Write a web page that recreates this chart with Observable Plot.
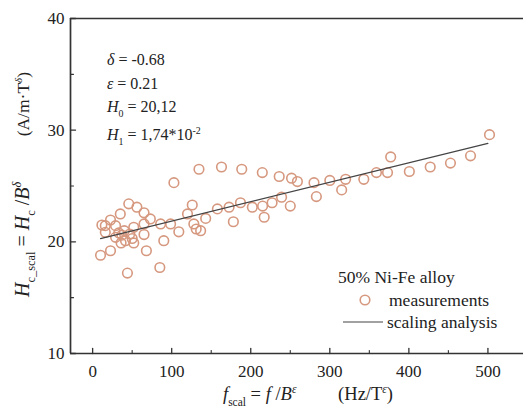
<!DOCTYPE html>
<html>
<head>
<meta charset="utf-8">
<script src="https://cdn.jsdelivr.net/npm/d3@7"></script>
<script src="https://cdn.jsdelivr.net/npm/@observablehq/plot@0.6"></script>
<style>
  html, body { margin: 0; padding: 0; background: #fff; }
  #chart { width: 523px; height: 413px; font-family: "Liberation Serif", serif; }
</style>
</head>
<body>
<div id="chart"></div>
<script>
// Scaled frequency f_scal (Hz/T^ε) of each measurement
const fScal = [10, 22.6, 44, 85, 68, 90, 45.7, 56, 65, 35, 73, 22.6, 16, 29, 52, 65, 86, 98.6,
  109, 126, 120, 131, 16, 29, 37, 41.6, 50, 65, 102.8, 134.5, 163, 188.6, 214.6, 236, 251.6,
  259, 280, 300, 320, 343, 359, 373, 377, 400.6, 427, 452.6, 478, 502, 315, 283, 239, 227,
  250, 217, 202, 215, 187, 172.6, 157.8, 178, 143, 128, 136.6, 33, 40, 47, 36, 52, 11.7];
// Scaled coercive field H_c_scal (A/m·T^δ) of each measurement
const hScal = [18.8, 19.2, 17.2, 17.7, 19.2, 20.1, 23.4, 23.1, 22.6, 22.5, 22.05, 21.95, 21.45,
  21.45, 21.3, 21.6, 21.6, 21.6, 20.9, 23.3, 22.5, 21.15, 20.85, 20.4, 20.6, 20.1, 20.3, 20.65,
  25.3, 26.5, 26.7, 26.5, 26.2, 25.85, 25.7, 25.4, 25.3, 25.5, 25.6, 25.6, 26.2, 26.2, 27.6,
  26.3, 26.7, 27.05, 27.7, 29.6, 24.65, 24.05, 24.0, 23.5, 23.2, 22.2, 23.1, 23.2, 23.5, 23.1,
  22.95, 21.8, 22.1, 21.6, 21.0, 20.8, 21.0, 20.7, 19.9, 19.9, 21.5];

// Scaling-analysis parameters
const delta = -0.68;
const epsilon = 0.21;
const H0 = 20.12;
const H1 = 1.74e-2;
const fitRange = [10, 500];

// Axis ticks
const xMajor = [0, 100, 200, 300, 400, 500];
const xMinor = [50, 150, 250, 350, 450];
const yMajor = [10, 20, 30, 40];
const yMinor = [15, 25, 35];

const points = fScal.map((f, i) => ({f, h: hScal[i]}));
const fit = fitRange.map(f => ({f, h: H0 + H1 * f}));

const X0 = -28, X1 = 545, Y0 = 10, Y1 = 40;
const circleColor = "#d6987f";
const axisColor = "#333";
const serif = "Liberation Serif";

// Tick shape drawn from its anchor along the local "up" direction
const tickShape = {draw(ctx, l) { ctx.moveTo(0, 0); ctx.lineTo(0, -l); }};

const plot = Plot.plot({
  width: 523,
  height: 413,
  marginLeft: 70,
  marginRight: 0,
  marginTop: 18,
  marginBottom: 60,
  style: {fontFamily: serif, fontSize: "17px", color: "#222", background: "transparent"},
  x: {domain: [X0, X1]},
  y: {domain: [Y0, Y1]},
  marks: [
    Plot.dot(points, {x: "f", y: "h", r: 4.8, stroke: circleColor, strokeWidth: 1.6, fill: "none"}),
    Plot.line(fit, {x: "f", y: "h", stroke: "#444", strokeWidth: 1.2}),
    // frame: left, bottom and top edges
    Plot.ruleX([X0], {stroke: axisColor, strokeWidth: 1.7}),
    Plot.ruleY([Y0, Y1], {stroke: axisColor, strokeWidth: 1.7}),
    // inward ticks
    Plot.vector(xMajor, {x: d => d, y: Y0, length: 5, rotate: 0, anchor: "start", shape: tickShape, stroke: axisColor, strokeWidth: 1.3}),
    Plot.vector(xMinor, {x: d => d, y: Y0, length: 3, rotate: 0, anchor: "start", shape: tickShape, stroke: axisColor, strokeWidth: 1.1}),
    Plot.vector(yMajor, {x: X0, y: d => d, length: 5, rotate: 90, anchor: "start", shape: tickShape, stroke: axisColor, strokeWidth: 1.3}),
    Plot.vector(yMinor, {x: X0, y: d => d, length: 3, rotate: 90, anchor: "start", shape: tickShape, stroke: axisColor, strokeWidth: 1.1}),
    Plot.axisX(xMajor, {tickSize: 0, tickPadding: 11, label: null, fontSize: 17}),
    Plot.axisY(yMajor, {tickSize: 0, tickPadding: 6, label: null, fontSize: 17})
  ]
});

document.getElementById("chart").appendChild(plot);

// Rich text (italics, subscripts, superscripts) as SVG tspans
const svg = d3.select(plot);
function richText(parent, x, y, parts, {size = 15, anchor = "start", rotate = 0} = {}) {
  const t = parent.append("text")
    .attr("transform", `translate(${x},${y})` + (rotate ? ` rotate(${rotate})` : ""))
    .attr("text-anchor", anchor)
    .attr("font-size", size)
    .attr("fill", "#222");
  let shift = 0;
  for (const p of parts) {
    const [txt, o = {}] = Array.isArray(p) ? p : [p];
    const target = o.sub ? size * 0.3 : o.sup ? -size * 0.4 : 0;
    const s = t.append("tspan").text(txt)
      .attr("dy", target - shift)
      .attr("font-size", o.sub || o.sup ? size * 0.62 : size);
    if (o.it) s.attr("font-style", "italic");
    shift = target;
  }
  return t;
}

const g = svg.append("g");
// fit parameters
richText(g, 107, 65, [["δ", {it: true}], " = ", String(delta)], {size: 16});
richText(g, 107, 89, [["ε", {it: true}], " = ", String(epsilon)], {size: 16});
richText(g, 107, 112, [["H", {it: true}], ["0", {sub: true}], " = ", String(H0).replace(".", ",")], {size: 16});
richText(g, 107, 140, [["H", {it: true}], ["1", {sub: true}], " = ", "1,74*10", ["-2", {sup: true}]], {size: 16});

// legend
richText(g, 338, 283, ["50% Ni-Fe alloy"], {size: 17.5});
g.append("circle").attr("cx", 365).attr("cy", 300).attr("r", 4.8)
  .attr("fill", "none").attr("stroke", circleColor).attr("stroke-width", 1.6);
richText(g, 389, 306, ["measurements"], {size: 17.5});
g.append("line").attr("x1", 343).attr("x2", 383).attr("y1", 322).attr("y2", 322)
  .attr("stroke", "#444").attr("stroke-width", 1.2);
richText(g, 387, 328, ["scaling analysis"], {size: 17.5});

// x axis title
richText(g, 223, 400, [["f", {it: true}], ["scal", {sub: true}], " = ", ["f", {it: true}], " /",
  ["B", {it: true}], ["ε", {sup: true, it: true}]], {size: 18.5});
richText(g, 393, 400, ["(Hz/T", ["ε", {sup: true, it: true}], ")"], {size: 18.5, anchor: "end"});
// y axis title
richText(g, 29, 297, [["H", {it: true}], ["c_scal", {sub: true}], " = ", ["H", {it: true}], ["c", {sub: true}],
  " /", ["B", {it: true}], ["δ", {sup: true, it: true}]], {size: 20, rotate: -90});
richText(g, 29, 72, ["(A/m·T", ["δ", {sup: true, it: true}], ")"], {size: 17.5, anchor: "end", rotate: -90});

// every label in the serif face
svg.attr("font-family", serif);
svg.selectAll("text, tspan").attr("font-family", serif);
</script>
</body>
</html>
